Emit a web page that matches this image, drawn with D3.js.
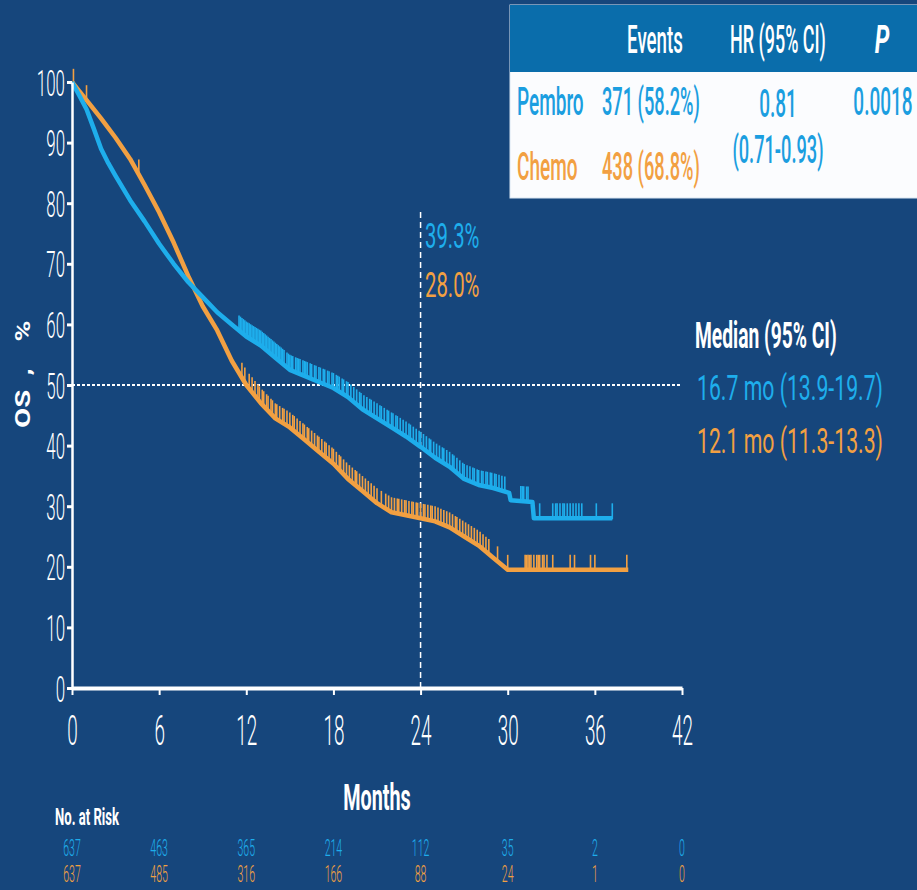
<!DOCTYPE html>
<html>
<head>
<meta charset="utf-8">
<script src="https://cdn.jsdelivr.net/npm/d3@7"></script>
<style>
  html, body { margin: 0; padding: 0; background: #16467c; }
  svg { display: block; }
  text { font-family: Roboto, "Open Sans", sans-serif; }
</style>
</head>
<body>
<script>
var width = 917, height = 890;

// data
var monthTicks = [0, 6, 12, 18, 24, 30, 36, 42];
var pctTicks = [0, 10, 20, 30, 40, 50, 60, 70, 80, 90, 100];

var pembroT = [0, 0.5, 1, 1.5, 2, 2.5, 3, 4, 5, 6, 7, 8, 9, 10, 11, 12, 13, 14, 15, 16, 17, 18, 19, 20, 21, 22, 23, 24, 25, 26, 27, 28, 29, 30.1, 30.2, 31.7, 31.8, 37.2];
var pembroS = [100, 97.8, 95.5, 92.3, 89, 86.6, 84.5, 80.5, 77, 73.3, 70, 67, 64.5, 62, 60, 58, 56.5, 54.5, 52.5, 51.5, 50.5, 49.5, 48, 46, 44.5, 43, 41.5, 39.8, 38, 36.5, 34.5, 33.5, 33, 32.2, 31, 30.7, 28, 28];

var chemoT = [0, 0.5, 1, 2, 3, 4, 5, 6, 7, 8, 9, 10, 11, 12, 13, 14, 15, 16, 17, 18, 19, 20, 21, 22, 23, 24, 25, 26, 27, 28, 29, 30, 38.3];
var chemoS = [100, 98.5, 97, 94, 90.8, 87.3, 83, 78.5, 73.5, 68, 63, 59, 54, 50, 47, 44.5, 43, 41, 39, 37, 34.5, 32.5, 30.5, 29, 28.5, 28, 27.5, 26.5, 25, 23.5, 21.5, 19.5, 19.5];

var pembroCensor = [11.5, 11.6, 11.7, 11.8, 11.9, 12.0, 12.1, 12.2, 12.3, 12.4, 12.5, 12.6, 12.7, 12.8, 12.9, 13.0, 13.1, 13.2, 13.3, 13.4, 13.5, 13.6, 13.7, 13.8, 13.9, 14.0, 14.1, 14.2, 14.3, 14.4, 14.5, 14.6, 14.8, 14.9, 15.0, 15.1, 15.2, 15.4, 15.5, 15.6, 15.7, 15.9, 16.0, 16.1, 16.2, 16.4, 16.5, 16.7, 16.8, 17.0, 17.1, 17.3, 17.4, 17.6, 17.7, 17.9, 18.0, 18.2, 18.3, 18.4, 18.6, 18.7, 18.9, 19.0, 19.2, 19.4, 19.6, 19.8, 19.9, 20.1, 20.3, 20.5, 20.6, 20.8, 21.0, 21.2, 21.3, 21.5, 21.7, 21.8, 22.0, 22.1, 22.3, 22.4, 22.6, 22.8, 23.0, 23.2, 23.3, 23.5, 23.7, 23.9, 24.0, 24.2, 24.4, 24.6, 24.7, 24.9, 25.1, 25.3, 25.5, 25.6, 25.8, 26.0, 26.2, 26.3, 26.5, 26.7, 26.9, 27.0, 27.2, 27.4, 27.6, 27.7, 27.9, 28.0, 28.2, 28.3, 28.5, 28.6, 28.8, 28.9, 29.1, 29.2, 29.4, 29.6, 29.8, 30.9, 31.0, 31.1, 31.3, 31.4, 32.2, 33.1, 33.3, 33.4, 33.6, 33.8, 33.9, 34.1, 34.3, 34.5, 34.7, 34.9, 35.1, 36.1, 37.2];
var chemoCensor = [0.1, 1.0, 4.6, 11.7, 11.9, 12.2, 12.4, 12.6, 12.8, 12.9, 13.1, 13.2, 13.4, 13.5, 13.7, 13.8, 14.0, 14.1, 14.3, 14.5, 14.6, 14.8, 15.0, 15.2, 15.3, 15.5, 15.7, 15.9, 16.0, 16.2, 16.3, 16.5, 16.7, 16.9, 17.0, 17.2, 17.4, 17.5, 17.7, 17.9, 18.0, 18.2, 18.4, 18.5, 18.7, 18.9, 19.1, 19.3, 19.5, 19.6, 19.8, 20.0, 20.2, 20.4, 20.6, 20.8, 21.0, 21.3, 21.6, 21.8, 22.0, 22.2, 22.4, 22.5, 22.7, 22.9, 23.0, 23.2, 23.4, 23.5, 23.7, 23.8, 24.0, 24.2, 24.3, 24.5, 24.7, 24.8, 25.0, 25.2, 25.4, 25.6, 25.8, 26.0, 26.2, 26.4, 26.5, 26.7, 26.9, 27.1, 27.3, 27.5, 27.7, 27.9, 28.1, 28.3, 28.5, 28.7, 29.3, 30.0, 31.2, 31.3, 31.4, 31.5, 31.6, 31.8, 32.0, 32.1, 32.2, 32.4, 32.5, 32.7, 33.1, 34.3, 34.6, 35.7, 36.0, 38.2];

var riskPembro = [637, 463, 365, 214, 112, 35, 2, 0];
var riskChemo = [637, 485, 316, 166, 88, 24, 1, 0];

var tableHead = ["Events", "HR (95% CI)", "P"];
var arms = ["Pembro", "Chemo"];
var events = ["371 (58.2%)", "438 (68.8%)"];
var hr = ["0.81", "(0.71-0.93)"];
var pval = "0.0018";
var medianTitle = "Median (95% CI)";
var medians = ["16.7 mo (13.9-19.7)", "12.1 mo (11.3-13.3)"];
var landmark = ["39.3%", "28.0%"];

var blue = "#1eaeec", orange = "#f2a042", bg = "#16467c";

var svg = d3.select("body").append("svg")
    .attr("width", width)
    .attr("height", height);

svg.append("rect").attr("width", width).attr("height", height).attr("fill", bg);

var x = d3.scaleLinear().domain([0, 42]).range([72, 682]);
var y = d3.scaleLinear().domain([0, 100]).range([688, 82]);

// condensed text helper
function label(g, txt, px, py, o) {
    return g.append("text")
        .attr("transform", "translate(" + px + "," + py + ") " + (o.rot ? "rotate(" + o.rot + ") " : "") + "scale(" + (o.sx || 0.5) + ",1)")
        .attr("text-anchor", o.anchor || "start")
        .attr("font-size", o.size)
        .attr("font-weight", o.weight || 400)
        .attr("font-style", o.style || "normal")
        .attr("fill", o.fill || "#fff")
        .text(txt);
}

// reference lines
svg.append("line")
    .attr("x1", x(0)).attr("x2", x(42)).attr("y1", y(50)).attr("y2", y(50))
    .attr("stroke", "#fff").attr("stroke-width", 2).attr("stroke-dasharray", "3,2");
svg.append("line")
    .attr("x1", x(24)).attr("x2", x(24)).attr("y1", 212).attr("y2", y(0))
    .attr("stroke", "#fff").attr("stroke-width", 1.5).attr("stroke-dasharray", "6,4");

// curves
var curves = [
    {t: chemoT, s: chemoS, c: chemoCensor, col: orange},
    {t: pembroT, s: pembroS, c: pembroCensor, col: blue}
];
curves.forEach(function(d) {
    var pts = d.t.map(function(t, i) { return [t, d.s[i]]; });
    svg.append("path")
        .datum(pts)
        .attr("fill", "none")
        .attr("stroke", d.col)
        .attr("stroke-width", 4.5)
        .attr("stroke-linejoin", "round")
        .attr("d", d3.line().x(function(p) { return x(p[0]); }).y(function(p) { return y(p[1]); }));
    var at = d3.scaleLinear().domain(d.t).range(d.s);
    svg.append("g").selectAll("line")
        .data(d.c)
        .enter().append("line")
        .attr("x1", function(t) { return x(t); })
        .attr("x2", function(t) { return x(t); })
        .attr("y1", function(t) { return y(at(t)) + 1; })
        .attr("y2", function(t) { return y(at(t)) - 15; })
        .attr("stroke", d.col)
        .attr("stroke-width", 1.6);
});

// axes
var yAxis = svg.append("g")
    .attr("transform", "translate(" + x(0) + ",0)")
    .call(d3.axisLeft(y).tickValues(pctTicks).tickSize(5).tickSizeOuter(0));
yAxis.select(".domain").attr("stroke", "#fff").attr("stroke-width", 2.5);
yAxis.selectAll(".tick line").attr("stroke", "#fff").attr("stroke-width", 3);
yAxis.selectAll(".tick text")
    .attr("fill", "#fff")
    .attr("font-size", 36)
    .attr("font-weight", 300)
    .attr("font-family", "Roboto, sans-serif")
    .attr("dy", 0)
    .attr("y", 13)
    .attr("x", -7 / 0.47)
    .attr("transform", "scale(0.47,1)");

var xAxis = svg.append("g")
    .attr("transform", "translate(0," + y(0) + ")")
    .call(d3.axisBottom(x).tickValues(monthTicks).tickSize(7).tickSizeOuter(0));
xAxis.select(".domain").attr("stroke", "#fff").attr("stroke-width", 4);
xAxis.selectAll(".tick line").attr("stroke", "#fff").attr("stroke-width", 2);
xAxis.selectAll(".tick text")
    .attr("fill", "#fff")
    .attr("font-size", 42)
    .attr("font-weight", 300)
    .attr("font-family", "Roboto, sans-serif")
    .attr("dy", 0)
    .attr("y", 57)
    .attr("x", 0)
    .attr("transform", "scale(0.45,1)");

// axis titles
label(svg, "Months", 377, 810, {size: 36, sx: 0.55, anchor: "middle", weight: 700});
label(svg, "OS", 30, 428, {size: 21, sx: 1.4, rot: -90, weight: 700});
label(svg, ",", 30, 372, {size: 21, sx: 1.4, rot: -90, anchor: "middle", weight: 700});
label(svg, "%", 30, 331, {size: 21, sx: 1.35, rot: -90, anchor: "middle", weight: 700});

// number at risk
label(svg, "No. at Risk", 55, 825, {size: 23, sx: 0.57, weight: 700});
var risk = svg.append("g");
monthTicks.forEach(function(m, i) {
    label(risk, riskPembro[i], x(m), 856, {size: 24, sx: 0.44, anchor: "middle", weight: 300, fill: blue});
    label(risk, riskChemo[i], x(m), 882, {size: 24, sx: 0.44, anchor: "middle", weight: 300, fill: orange});
});

// landmark labels at 24 months
label(svg, landmark[0], 425, 248, {size: 35, sx: 0.58, weight: 400, fill: blue});
label(svg, landmark[1], 425, 297, {size: 35, sx: 0.58, weight: 400, fill: orange});

// medians
label(svg, medianTitle, 695, 348, {size: 37, sx: 0.52, weight: 700});
label(svg, medians[0], 697, 400, {size: 36, sx: 0.59, weight: 400, fill: blue});
label(svg, medians[1], 697, 453, {size: 36, sx: 0.59, weight: 400, fill: orange});

// table
var tb = svg.append("g");
tb.append("rect").attr("x", 510).attr("y", 5).attr("width", 420).attr("height", 193)
    .attr("fill", "#fbfcfe").attr("stroke", "#d9e6f2").attr("stroke-width", 1);
tb.append("rect").attr("x", 510).attr("y", 5).attr("width", 420).attr("height", 67)
    .attr("fill", "#0a6dab");
label(tb, tableHead[0], 655, 53, {size: 39, sx: 0.48, anchor: "middle", weight: 500});
label(tb, tableHead[1], 778, 53, {size: 39, sx: 0.46, anchor: "middle", weight: 500});
label(tb, tableHead[2], 882, 53, {size: 39, sx: 0.6, anchor: "middle", weight: 700, style: "italic"});
label(tb, arms[0], 517, 115, {size: 38, sx: 0.5, weight: 500, fill: "#1b9ee0"});
label(tb, arms[1], 517, 180, {size: 38, sx: 0.5, weight: 500, fill: orange});
label(tb, events[0], 602, 115, {size: 38, sx: 0.48, weight: 500, fill: "#1b9ee0"});
label(tb, events[1], 602, 180, {size: 38, sx: 0.48, weight: 500, fill: orange});
label(tb, hr[0], 778, 117, {size: 38, sx: 0.5, anchor: "middle", weight: 500, fill: "#1b9ee0"});
label(tb, hr[1], 778, 163, {size: 38, sx: 0.48, anchor: "middle", weight: 500, fill: "#1b9ee0"});
label(tb, pval, 883, 115, {size: 38, sx: 0.5, anchor: "middle", weight: 500, fill: "#1b9ee0"});
</script>
</body>
</html>
